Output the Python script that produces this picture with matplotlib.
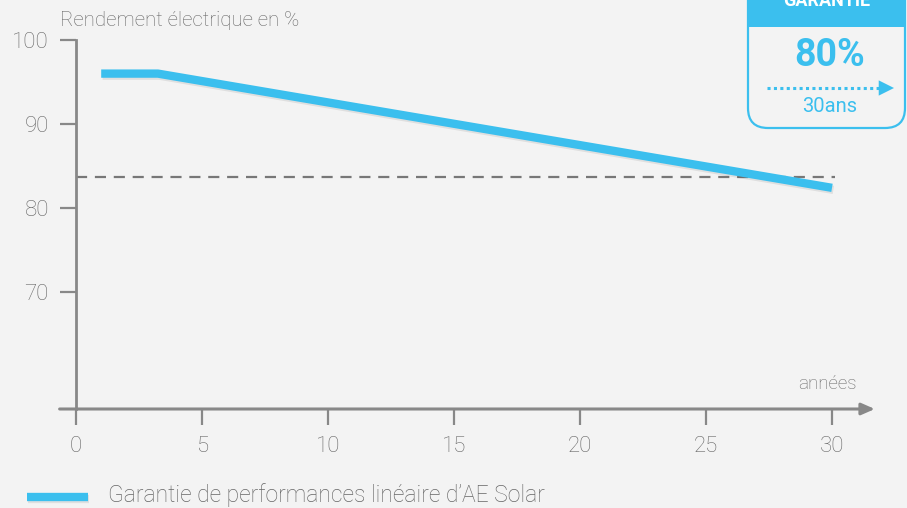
import matplotlib.pyplot as plt
import matplotlib.patheffects as pe
from matplotlib.patches import FancyBboxPatch, Rectangle

# Data
annees = [1, 3.25, 30]
rendement = [96, 96, 82.4]
seuil_garantie = 83.7
x_ticks = [0, 5, 10, 15, 20, 25, 30]
y_ticks = [70, 80, 90, 100]

BLUE = "#3bbfee"
GREY = "#888888"
TEXT = "#666666"
BG = "#f3f3f3"

plt.rcParams["font.family"] = ["Roboto", "DejaVu Sans"]
plt.rcParams["font.weight"] = "light"

W, H = 907, 508
fig = plt.figure(figsize=(W / 100, H / 100), dpi=100, facecolor=BG)

# main axes, placed in pixels: x 0 -> 76px, 1 year = 25.2px ; y 100 -> 40px, 1 unit = 8.4px
x0, px_year = 76, 25.2
y_top, px_unit = 40, 8.4
xmax = 31.5
ymin = 100 - (409 - y_top) / px_unit
ax = fig.add_axes([x0 / W, 1 - 409 / H, xmax * px_year / W, (409 - y_top) / H])
ax.set_facecolor("none")
ax.set_xlim(0, xmax)
ax.set_ylim(ymin, 100)

for s in ["top", "right", "bottom"]:
    ax.spines[s].set_visible(False)
ax.spines["left"].set_color(GREY)
ax.spines["left"].set_linewidth(2)

ax.set_xticks(x_ticks)
ax.set_yticks(y_ticks)
ax.tick_params(axis="both", colors=GREY, width=1.6, length=11.5, labelcolor=TEXT,
               labelsize=16, pad=8)

# x axis with arrow, starting a bit left of the y axis
ax.annotate("", xy=(xmax + 0.2, ymin), xytext=(-0.65, ymin),
            xycoords="data", annotation_clip=False,
            arrowprops=dict(arrowstyle="-|>,head_length=0.8,head_width=0.35",
                            color=GREY, lw=2.2, shrinkA=0, shrinkB=0))

# guarantee threshold
ax.plot([0, 30.1], [seuil_garantie, seuil_garantie], color="#777777", lw=1.6,
        dashes=(5, 3.5), clip_on=False, zorder=2)

# linear performance guarantee
ax.plot(annees, rendement, color=BLUE, lw=6, solid_capstyle="butt", clip_on=False, zorder=3,
        path_effects=[pe.SimpleLineShadow(offset=(1, -1.5), shadow_color="#000000", alpha=0.08),
                      pe.Normal()])

# overlay in pixel coordinates for annotations
ov = fig.add_axes([0, 0, 1, 1])
ov.set_xlim(0, W)
ov.set_ylim(H, 0)
ov.axis("off")
ov.patch.set_alpha(0)

ov.text(60, 21, "Rendement électrique en %", color=TEXT, fontsize=14.7, va="center", ha="left")
ov.text(857, 384, "années", color=TEXT, fontsize=13.5, va="center", ha="right")

# legend
ov.plot([27, 88], [497, 497], color=BLUE, lw=6, solid_capstyle="butt",
        path_effects=[pe.SimpleLineShadow(offset=(1, -1.5), shadow_color="#000000", alpha=0.08),
                      pe.Normal()])
ov.text(108, 495, "Garantie de performances linéaire d\u2019AE Solar", color=TEXT,
        fontsize=16.5, va="center", ha="left")

# guarantee box, top right
box = FancyBboxPatch((748, -40), 157, 168, boxstyle="round,pad=0,rounding_size=20",
                     facecolor="none", edgecolor=BLUE, lw=1.6)
ov.add_patch(box)
ov.add_patch(Rectangle((748, -40), 157, 67, facecolor=BLUE, edgecolor="none"))
ov.text(827, 6, "GARANTIE", color="white", fontsize=13, fontweight="bold",
        ha="center", va="baseline")
ov.text(830, 55, "80%", color=BLUE, fontsize=27, fontweight="bold", ha="center", va="center")
ov.plot([767, 880], [88, 88], color=BLUE, lw=2.2, ls=(0, (1, 1.1)))
ov.annotate("", xy=(894, 88), xytext=(878, 88),
            arrowprops=dict(arrowstyle="-|>,head_length=1.1,head_width=0.55",
                            color=BLUE, lw=0, shrinkA=0, shrinkB=0))
ov.text(830, 106, "30ans", color=BLUE, fontsize=14.5, fontweight="normal",
        ha="center", va="center")

fig.savefig("out.png", dpi=100, facecolor=BG)
